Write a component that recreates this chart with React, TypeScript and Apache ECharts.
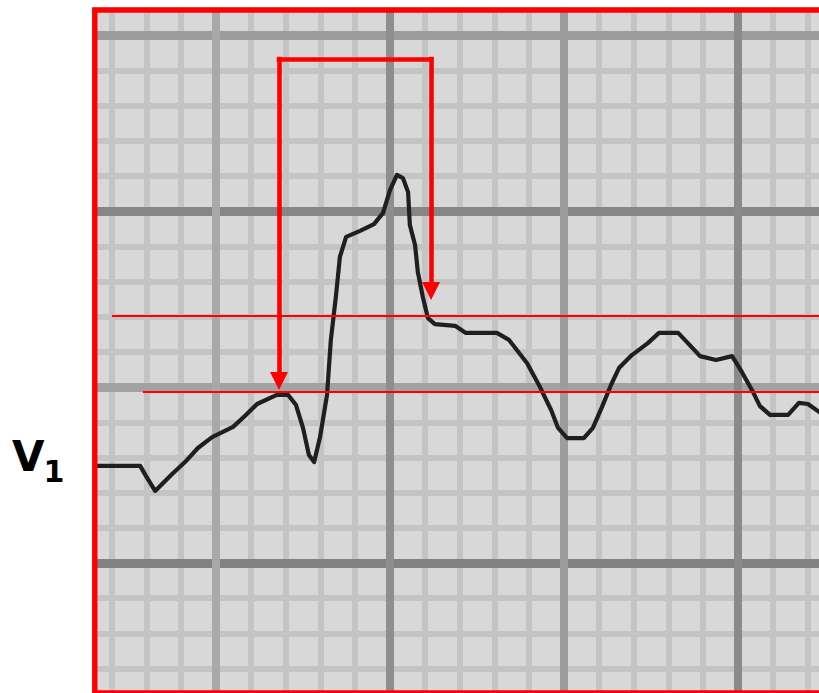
import React, { useEffect, useRef } from "react";
import * as echarts from "echarts";

// ECG trace, in millimetres of chart paper (x: time, y: amplitude)
const traceX = [1.58, 2.82, 2.99, 3.25, 3.74, 4.11, 4.48, 4.89, 5.49, 5.83, 6.18, 6.75, 7.07, 7.3, 7.5, 7.67, 7.82, 7.99, 8.19, 8.3, 8.45, 8.56, 8.74, 9.14, 9.54, 9.8, 10.0, 10.2, 10.37, 10.52, 10.57, 10.72, 10.8, 10.95, 11.09, 11.29, 11.87, 12.18, 13.07, 13.42, 13.94, 14.31, 14.63, 14.83, 15.09, 15.57, 15.83, 16.09, 16.35, 16.58, 16.95, 17.41, 17.73, 18.28, 18.56, 18.91, 19.37, 19.83, 20.11, 20.4, 20.63, 20.92, 21.44, 21.75, 22.01, 22.41];
const traceY = [7.76, 7.76, 7.47, 7.05, 7.53, 7.87, 8.27, 8.58, 8.87, 9.18, 9.52, 9.78, 9.78, 9.49, 8.84, 8.07, 7.87, 8.58, 9.78, 11.34, 12.62, 13.7, 14.27, 14.44, 14.63, 14.95, 15.6, 16.03, 15.94, 15.54, 14.61, 14.04, 13.27, 12.53, 11.96, 11.79, 11.74, 11.54, 11.54, 11.34, 10.68, 10.0, 9.35, 8.84, 8.55, 8.55, 8.84, 9.43, 10.06, 10.54, 10.91, 11.25, 11.54, 11.54, 11.25, 10.88, 10.77, 10.88, 10.43, 9.92, 9.46, 9.21, 9.21, 9.55, 9.52, 9.24];

// red reference levels (horizontal lines) and where they start
const refLevels = [12.02, 9.88];
const refStarts = [2.01, 2.9];

// red bracket with arrows
const bracketX = [6.81, 11.18];
const bracketTop = 19.32;
const bracketEnds = [10.17, 12.73];

// paper grid
const xRange = [0, 23];
const yRange = [0, 21];
const minorStep = 1;
const majorStep = 5;
const majorXColors = ["#9a9a9a", "#a9a9a9", "#8e8e8e", "#9c9c9c", "#8a8a8a", "#8a8a8a"];
const majorYColors = ["#858585", "#828282", "#a2a2a2", "#868686", "#9c9c9c", "#9c9c9c"];

const leadLabel = "V";
const leadSub = "1";

export default function App() {
  const ref = useRef<HTMLDivElement>(null);
  useEffect(() => {
    if (!ref.current) return;
    const chart = echarts.init(ref.current, undefined, { renderer: "svg" });
    const hiddenAxis = {
      axisLine: { show: false },
      axisTick: { show: false },
      axisLabel: { show: false },
    };
    const red = "#ff0000";
    const option: any = {
      animation: false,
      backgroundColor: "#ffffff",
      grid: {
        show: true,
        left: 42,
        top: 0,
        width: 800.4,
        height: 739,
        backgroundColor: "#d8d8d8",
        borderWidth: 0,
        containLabel: false,
      },
      xAxis: [
        {
          type: "value",
          min: xRange[0],
          max: xRange[1],
          interval: minorStep,
          z: 0,
          ...hiddenAxis,
          splitLine: { show: true, lineStyle: { color: "#c4c4c4", width: 6 } },
        },
        {
          type: "value",
          min: xRange[0],
          max: xRange[1],
          interval: majorStep,
          z: 1,
          ...hiddenAxis,
          splitLine: { show: true, lineStyle: { color: majorXColors, width: 8 } },
        },
      ],
      yAxis: [
        {
          type: "value",
          min: yRange[0],
          max: yRange[1],
          interval: minorStep,
          z: 0,
          ...hiddenAxis,
          splitLine: { show: true, lineStyle: { color: "#c4c4c4", width: 6 } },
        },
        {
          type: "value",
          min: yRange[0],
          max: yRange[1],
          interval: majorStep,
          z: 1,
          ...hiddenAxis,
          splitLine: { show: true, lineStyle: { color: majorYColors, width: 9 } },
        },
      ],
      series: [
        {
          type: "line",
          xAxisIndex: 1,
          yAxisIndex: 1,
          data: traceX.map((x, i) => [x, traceY[i]]),
          showSymbol: false,
          symbol: "none",
          lineStyle: { color: "#1f1f1f", width: 4.2, join: "round" },
          z: 3,
          silent: true,
        },
        {
          type: "line",
          xAxisIndex: 1,
          yAxisIndex: 1,
          data: [],
          z: 5,
          markLine: {
            silent: true,
            animation: false,
            symbol: ["none", "none"],
            label: { show: false },
            lineStyle: { color: red, type: "solid", width: 1.8 },
            data: [
              ...refLevels.map((lv, i) => [
                { coord: [refStarts[i], lv] },
                { coord: [xRange[1], lv] },
              ]),
              [
                { coord: [bracketX[0], bracketTop], symbol: "none", lineStyle: { width: 4.6, cap: "square" } },
                { coord: [bracketX[0], bracketEnds[0]], symbol: "triangle", symbolSize: 18 },
              ],
              [
                { coord: [bracketX[0], bracketTop], symbol: "none", lineStyle: { width: 4.6, cap: "square" } },
                { coord: [bracketX[1], bracketTop], symbol: "none" },
              ],
              [
                { coord: [bracketX[1], bracketTop], symbol: "none", lineStyle: { width: 4.6, cap: "square" } },
                { coord: [bracketX[1], bracketEnds[1]], symbol: "triangle", symbolSize: 18 },
              ],
            ],
          },
        },
      ],
      graphic: [
        { type: "rect", z: 50, silent: true, shape: { x: 0, y: 0, width: 92.4, height: 760 }, style: { fill: "#ffffff" } },
        { type: "rect", z: 50, silent: true, shape: { x: 0, y: 0, width: 860, height: 7.6 }, style: { fill: "#ffffff" } },
        {
          type: "rect",
          z: 60,
          silent: true,
          shape: { x: 94.8, y: 10, width: 735, height: 683 },
          style: { fill: "none", stroke: red, lineWidth: 5.4 },
        },
        {
          type: "text",
          z: 70,
          silent: true,
          x: 12,
          y: 456.5,
          style: {
            text: leadLabel,
            font: 'bold 42px "DejaVu Sans", sans-serif',
            fill: "#000000",
            align: "left",
            verticalAlign: "middle",
          },
        },
        {
          type: "text",
          z: 70,
          silent: true,
          x: 43.5,
          y: 471.3,
          style: {
            text: leadSub,
            font: 'bold 30px "DejaVu Sans", sans-serif',
            fill: "#000000",
            align: "left",
            verticalAlign: "middle",
          },
        },
      ],
    };
    chart.setOption(option);
    return () => chart.dispose();
  }, []);
  return (
    <div
      ref={ref}
      style={{ position: "fixed", left: 0, top: 0, width: 860, height: 760 }}
    />
  );
}
